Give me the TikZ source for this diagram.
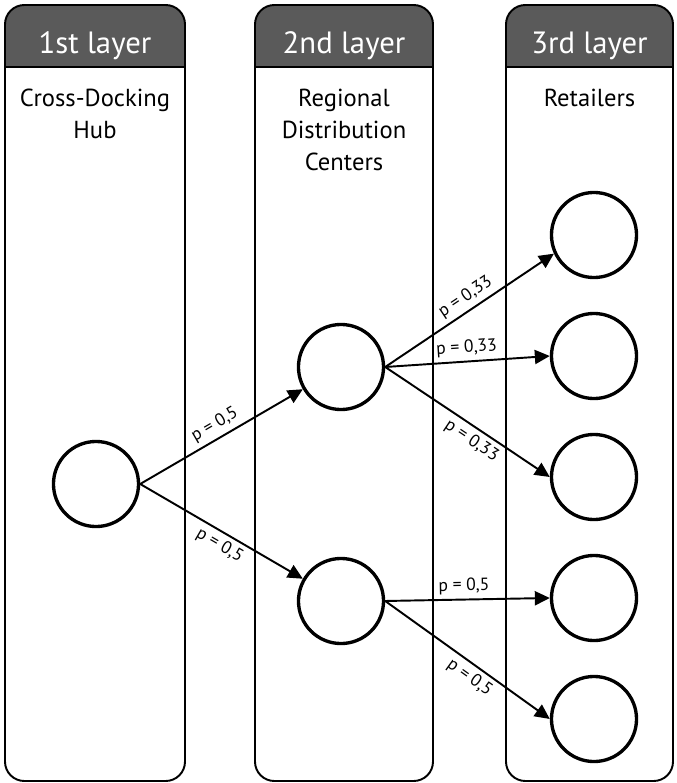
\documentclass[tikz,border=0pt]{standalone}
\usepackage{fontspec}
\setmainfont{PT Sans}
\usetikzlibrary{arrows.meta}
\definecolor{tabgray}{RGB}{90,90,90}

\tikzset{
  site/.style={draw, circle, line width=1.9pt, minimum size=48.4pt, inner sep=0pt},
  flow/.style={line width=1.1pt, -{Triangle[length=8.5pt,width=8pt]}},
  prob/.style={font=\fontsize{10}{12}\selectfont, sloped, inner sep=2.5pt},
  tab/.style={text=white, anchor=base, inner sep=0pt, font=\fontsize{17.5}{21}\selectfont},
  layer/.style={anchor=north, align=center, inner sep=0pt, font=\fontsize{14}{18.2}\selectfont},
  frame/.style={line width=1.1pt, rounded corners=11pt}
}

\begin{document}
\begin{tikzpicture}[scale=0.2]
\useasboundingbox (0,0) rectangle (67.6,-78.3);
\fill [tabgray] (0.5,-6.7) [rounded corners=11pt] -- (0.5,-0.5) -- (18.5,-0.5) [sharp corners] -- (18.5,-6.7) -- cycle;
\draw [frame] (0.5,-0.5) rectangle (18.5,-78.1);
\draw [line width=1.1pt] (0.5,-6.7) -- (18.5,-6.7);
\fill [tabgray] (25.5,-6.7) [rounded corners=11pt] -- (25.5,-0.5) -- (43.3,-0.5) [sharp corners] -- (43.3,-6.7) -- cycle;
\draw [frame] (25.5,-0.5) rectangle (43.3,-78.1);
\draw [line width=1.1pt] (25.5,-6.7) -- (43.3,-6.7);
\fill [tabgray] (50.6,-6.7) [rounded corners=11pt] -- (50.6,-0.5) -- (67.3,-0.5) [sharp corners] -- (67.3,-6.7) -- cycle;
\draw [frame] (50.6,-0.5) rectangle (67.3,-78.1);
\draw [line width=1.1pt] (50.6,-6.7) -- (67.3,-6.7);

\node [tab] (tab1) at (9.5,-5.3) {1st layer};
\node [tab] (tab2) at (34.4,-5.3) {2nd layer};
\node [tab] (tab3) at (58.95,-5.3) {3rd layer};
\node [layer] (hubname) at (9.5,-8.9) {Cross-Docking\\Hub};
\node [layer] (rdcname) at (34.4,-8.9) {Regional\\Distribution\\Centers};
\node [layer] (retname) at (58.95,-8.9) {Retailers};

\node [site] (hub) at (9.6,-48.4) {};
\node [site] (rdc1) at (34.1,-36.7) {};
\node [site] (rdc2) at (34.1,-60.1) {};
\node [site] (ret1) at (59.4,-23.5) {};
\node [site] (ret2) at (59.4,-35.6) {};
\node [site] (ret3) at (59.4,-47.7) {};
\node [site] (ret4) at (59.4,-59.8) {};
\node [site] (ret5) at (59.4,-71.9) {};

\draw [flow] (hub.east) -- (rdc1) node [prob, above, pos=0.5] {p = 0,5};
\draw [flow] (hub.east) -- (rdc2) node [prob, below, pos=0.53] {p = 0,5};
\draw [flow] (rdc1.east) -- (ret1.205) node [prob, above, pos=0.52] {p = 0,33};
\draw [flow] (rdc1.east) -- (ret2.west) node [prob, above, pos=0.5] {p = 0,33};
\draw [flow] (rdc1.east) -- (ret3.west) node [prob, below, pos=0.57] {p = 0,33};
\draw [flow] (rdc2.east) -- (ret4.west) node [prob, above, pos=0.48] {p = 0,5};
\draw [flow] (rdc2.east) -- (ret5.west) node [prob, below, pos=0.56] {p = 0,5};
\end{tikzpicture}
\end{document}
